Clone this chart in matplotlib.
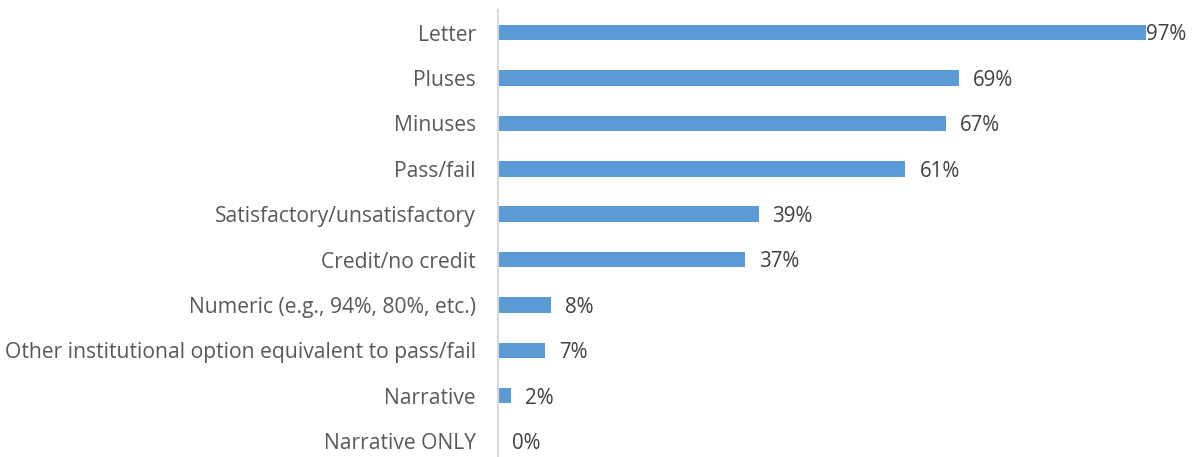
import matplotlib.pyplot as plt

# データ
categories = ['Letter', 'Pluses', 'Minuses', 'Pass/fail', 'Satisfactory/unsatisfactory',
              'Credit/no credit', 'Numeric (e.g., 94%, 80%, etc.)',
              'Other institutional option equivalent to pass/fail', 'Narrative', 'Narrative ONLY']
values = [97, 69, 67, 61, 39, 37, 8, 7, 2, 0]

plt.rcParams['font.family'] = ['Open Sans', 'DejaVu Sans']

fig = plt.figure(figsize=(11.94, 4.57), dpi=100)
ax = fig.add_axes([498 / 1194, 0, (1166 - 498) / 1194, 447 / 457])

ypos = list(range(len(categories)))
ax.barh(ypos, values, height=0.34, color='#5B9BD5')

for y, v in zip(ypos, values):
    x = v + 2.1
    if x + 6 > 100:
        x = v
    ax.text(x, y + 0.05, f'{v}%', va='center', ha='left', fontsize=14.8, color='#404040', clip_on=False)

ax.set_xlim(0, 100)
ax.set_ylim(9.35, -0.5)
ax.set_yticks(ypos)
ax.set_yticklabels(categories, fontsize=15.2, color='#595959')
ax.tick_params(axis='y', length=0, pad=16)
ax.set_xticks([])
for s in ['top', 'right', 'bottom']:
    ax.spines[s].set_visible(False)
ax.spines['left'].set_color('#D9D9D9')
ax.spines['left'].set_linewidth(1.5)

plt.savefig('out.png', dpi=100)
